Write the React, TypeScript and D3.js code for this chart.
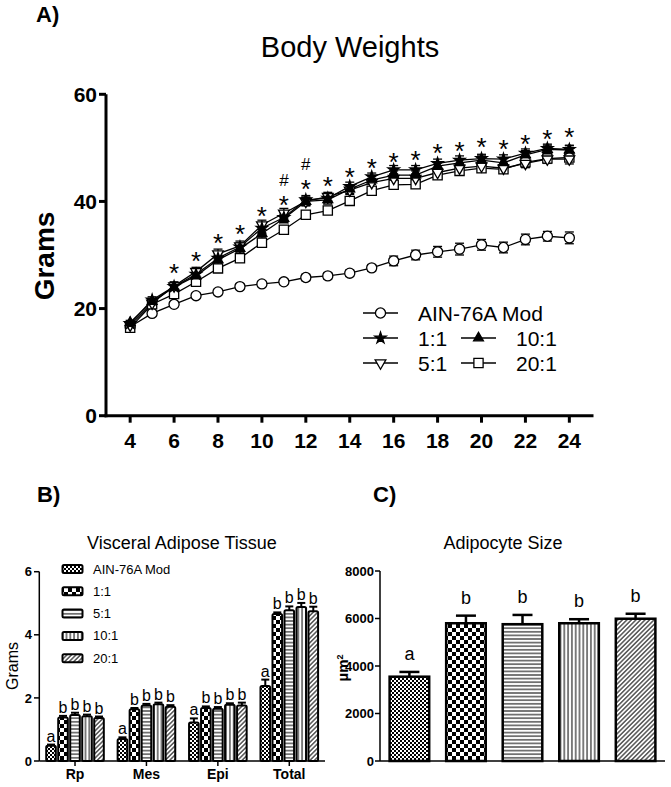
import React from "react";
import * as d3 from "d3";

const FONT = "'Liberation Sans', Arial, sans-serif";

// ---- panel A : body weights ----
const weeks = [4, 5, 6, 7, 8, 9, 10, 11, 12, 13, 14, 15, 16, 17, 18, 19, 20, 21, 22, 23, 24];
const weekTicks = [4, 6, 8, 10, 12, 14, 16, 18, 20, 22, 24];
const gramTicks = [0, 20, 40, 60];

const ainMod = [16.6, 19.1, 20.8, 22.4, 23.1, 24.1, 24.6, 25.0, 25.8, 26.1, 26.6, 27.6, 28.9, 30.0, 30.6, 31.1, 31.9, 31.4, 32.9, 33.5, 33.2];
const ainModErr = [0.4, 0.5, 0.5, 0.5, 0.5, 0.5, 0.5, 0.5, 0.6, 0.6, 0.6, 0.6, 0.9, 0.9, 1.0, 1.1, 1.0, 1.0, 1.0, 0.9, 1.1];
const ratio1 = [17.2, 21.6, 24.1, 26.4, 29.4, 31.5, 35.0, 37.0, 40.3, 40.6, 42.8, 44.6, 45.9, 45.9, 47.1, 47.7, 48.0, 47.9, 49.0, 49.9, 49.7];
const ratio1Err = [0.4, 0.6, 0.7, 0.7, 0.8, 0.8, 0.9, 0.9, 0.8, 0.8, 0.8, 0.7, 0.8, 0.8, 0.8, 0.8, 0.8, 0.8, 0.8, 0.8, 0.8];
const ratio5 = [16.9, 21.0, 24.2, 26.9, 30.2, 31.7, 35.6, 37.8, 40.0, 40.9, 42.1, 43.5, 44.3, 44.3, 45.4, 46.2, 46.6, 46.2, 47.1, 47.9, 47.9];
const ratio5Err = [0.4, 0.6, 0.8, 0.8, 0.9, 0.9, 0.9, 0.9, 0.8, 0.8, 0.8, 0.8, 0.8, 0.8, 0.8, 0.8, 0.8, 0.8, 0.8, 0.8, 0.9];
const ratio10 = [17.4, 21.3, 24.0, 26.1, 29.1, 31.2, 34.0, 36.8, 40.0, 40.3, 42.3, 44.0, 44.9, 44.9, 46.6, 47.2, 47.7, 47.2, 48.7, 49.7, 49.6];
const ratio10Err = [0.4, 0.6, 0.7, 0.7, 0.8, 0.8, 0.8, 0.8, 0.8, 0.8, 0.8, 0.8, 0.8, 0.8, 0.8, 0.8, 0.8, 0.8, 0.8, 0.8, 0.8];
const ratio20 = [16.4, 20.8, 22.7, 25.0, 27.5, 29.4, 32.3, 34.7, 37.5, 38.3, 40.1, 42.0, 43.1, 43.2, 44.9, 45.7, 46.2, 46.0, 47.3, 48.0, 48.2];
const ratio20Err = [0.4, 0.6, 0.6, 0.7, 0.7, 0.7, 0.7, 0.7, 0.7, 0.7, 0.7, 0.7, 0.7, 0.7, 0.7, 0.7, 0.7, 0.7, 0.7, 0.7, 0.7];

// significance marks (week, height in grams)
const starWeeks = [6, 7, 8, 9, 10, 11, 12, 13, 14, 15, 16, 17, 18, 19, 20, 21, 22, 23, 24];
const starAt = [27.8, 30.0, 33.4, 35.0, 38.4, 40.4, 43.5, 44.0, 45.7, 47.4, 48.4, 48.8, 50.2, 50.5, 51.2, 51.0, 51.8, 52.8, 53.2];
const hashWeeks = [11, 12];
const hashAt = [44.0, 46.9];

// ---- panel B : visceral adipose tissue ----
const diets = ["AIN-76A Mod", "1:1", "5:1", "10:1", "20:1"];
const sites = ["Rp", "Mes", "Epi", "Total"];
const fatTicks = [0, 2, 4, 6];
const fatAin = [0.48, 0.70, 1.22, 2.38];
const fat1 = [1.38, 1.64, 1.68, 4.66];
const fat5 = [1.46, 1.76, 1.66, 4.78];
const fat10 = [1.42, 1.80, 1.78, 4.88];
const fat20 = [1.36, 1.72, 1.76, 4.75];
const fatAinErr = [0.04, 0.05, 0.13, 0.2];
const fat1Err = [0.05, 0.04, 0.05, 0.05];
const fat5Err = [0.07, 0.05, 0.05, 0.12];
const fat10Err = [0.05, 0.05, 0.05, 0.13];
const fat20Err = [0.05, 0.05, 0.09, 0.14];
const dietLetters = ["a", "b", "b", "b", "b"];

// ---- panel C : adipocyte size ----
const cellTicks = [0, 2000, 4000, 6000, 8000];
const cellSize = [3550, 5800, 5760, 5800, 5990];
const cellErr = [200, 320, 390, 170, 210];

const patterns = ["pFine", "pCheck", "pHor", "pVer", "pDiag"];

const fatByDiet = [fatAin, fat1, fat5, fat10, fat20];
const fatErrByDiet = [fatAinErr, fat1Err, fat5Err, fat10Err, fat20Err];

const Defs = () => (
  <defs>
    <pattern id="pFine" width={4} height={4} patternUnits="userSpaceOnUse">
      <rect width={4} height={4} fill="#fff" />
      <rect width={2} height={2} fill="#000" />
      <rect x={2} y={2} width={2} height={2} fill="#000" />
    </pattern>
    <pattern id="pCheck" width={8} height={8} patternUnits="userSpaceOnUse">
      <rect width={8} height={8} fill="#fff" />
      <rect width={4} height={4} fill="#000" />
      <rect x={4} y={4} width={4} height={4} fill="#000" />
    </pattern>
    <pattern id="pHor" width={4} height={3.6} patternUnits="userSpaceOnUse">
      <rect width={4} height={3.6} fill="#fff" />
      <rect y={1.3} width={4} height={1} fill="#000" />
    </pattern>
    <pattern id="pVer" width={3.8} height={4} patternUnits="userSpaceOnUse">
      <rect width={3.8} height={4} fill="#fff" />
      <rect x={1.4} width={1} height={4} fill="#000" />
    </pattern>
    <pattern id="pDiag" width={3.2} height={4} patternUnits="userSpaceOnUse" patternTransform="rotate(45)">
      <rect width={3.2} height={4} fill="#fff" />
      <rect x={1.1} width={1} height={4} fill="#000" />
    </pattern>
  </defs>
);

const PanelA = () => {
  const x = d3.scaleLinear().domain([2.9, 25.1]).range([106, 593.5]);
  const y = d3.scaleLinear().domain([0, 60]).range([415.7, 94.3]);
  const line = d3.line<number>().x((_, i) => x(weeks[i])).y((d) => y(d));

  const series = [
    { name: "AIN-76A Mod", v: ainMod, e: ainModErr, type: d3.symbolCircle, size: 80, fill: "#fff", rot: 0 },
    { name: "20:1", v: ratio20, e: ratio20Err, type: d3.symbolSquare, size: 85, fill: "#fff", rot: 0 },
    { name: "5:1", v: ratio5, e: ratio5Err, type: d3.symbolTriangle, size: 50, fill: "#fff", rot: 180 },
    { name: "10:1", v: ratio10, e: ratio10Err, type: d3.symbolTriangle, size: 42, fill: "#000", rot: 0 },
    { name: "1:1", v: ratio1, e: ratio1Err, type: d3.symbolStar, size: 40, fill: "#000", rot: 0 },
  ];
  const sym = (s: any) => d3.symbol(s.type, s.size)() as string;
  const get = (n: string) => series.find((s) => s.name === n)!;

  const legend = [
    { n: "AIN-76A Mod", lx: 363, ly: 313 },
    { n: "1:1", lx: 363, ly: 338 },
    { n: "5:1", lx: 363, ly: 363 },
    { n: "10:1", lx: 461, ly: 338 },
    { n: "20:1", lx: 461, ly: 363 },
  ];

  return (
    <g fontFamily={FONT}>
      <text x={36} y={22} fontSize={22} fontWeight="bold">A)</text>
      <text x={350} y={57} fontSize={29} textAnchor="middle">Body Weights</text>
      <text transform="translate(54,256) rotate(-90)" fontSize={28} fontWeight="bold" textAnchor="middle">Grams</text>

      {/* axes */}
      <line x1={106} x2={106} y1={y(60)} y2={y(0) + 1.5} stroke="#000" strokeWidth={3} />
      <line x1={104.5} x2={593.5} y1={y(0)} y2={y(0)} stroke="#000" strokeWidth={3} />
      {gramTicks.map((t) => (
        <g key={t}>
          <line x1={99} x2={106} y1={y(t)} y2={y(t)} stroke="#000" strokeWidth={3} />
          <text x={97} y={y(t)} dy="0.36em" fontSize={21} fontWeight="bold" textAnchor="end">{t}</text>
        </g>
      ))}
      {weekTicks.map((t) => (
        <g key={t}>
          <line x1={x(t)} x2={x(t)} y1={y(0)} y2={y(0) + 7} stroke="#000" strokeWidth={3} />
          <text x={x(t)} y={448} fontSize={21} fontWeight="bold" textAnchor="middle">{t}</text>
        </g>
      ))}

      {series.map((s) => (
        <path key={s.name} d={line(s.v) as string} fill="none" stroke="#000" strokeWidth={1.3} />
      ))}
      {series.map((s) =>
        s.v.map((v, i) => (
          <g key={s.name + i} stroke="#000" strokeWidth={1.3}>
            <line x1={x(weeks[i])} x2={x(weeks[i])} y1={y(v - s.e[i])} y2={y(v + s.e[i])} />
            <line x1={x(weeks[i]) - 4.5} x2={x(weeks[i]) + 4.5} y1={y(v + s.e[i])} y2={y(v + s.e[i])} />
            <line x1={x(weeks[i]) - 4.5} x2={x(weeks[i]) + 4.5} y1={y(v - s.e[i])} y2={y(v - s.e[i])} />
          </g>
        ))
      )}
      {series.map((s) =>
        s.v.map((v, i) => (
          <path key={"m" + s.name + i} d={sym(s)} transform={`translate(${x(weeks[i])},${y(v)}) rotate(${s.rot})`}
            fill={s.fill} stroke="#000" strokeWidth={1.3} />
        ))
      )}

      {starWeeks.map((w, i) => (
        <text key={"s" + w} x={x(w)} y={y(starAt[i]) + 15} fontSize={26} textAnchor="middle">*</text>
      ))}
      {hashWeeks.map((w, i) => (
        <text key={"h" + w} x={x(w)} y={y(hashAt[i]) + 6} fontSize={17} textAnchor="middle">#</text>
      ))}

      {legend.map((l) => {
        const s = get(l.n);
        return (
          <g key={l.n}>
            <line x1={l.lx} x2={l.lx + 35} y1={l.ly} y2={l.ly} stroke="#000" strokeWidth={1.5} />
            <path d={sym(s)} transform={`translate(${l.lx + 17.5},${l.ly}) rotate(${s.rot})`} fill={s.fill} stroke="#000" strokeWidth={1.3} />
            <text x={l.lx + 55} y={l.ly + 7.5} fontSize={21}>{l.n}</text>
          </g>
        );
      })}
    </g>
  );
};

const PanelB = () => {
  const x0 = d3.scaleBand().domain(sites).range([39.3, 325]).paddingInner(0.16).paddingOuter(0.08);
  const x1 = d3.scaleBand().domain(diets).range([0, x0.bandwidth()]).paddingInner(0.2).paddingOuter(0.1);
  const y = d3.scaleLinear().domain([0, 6]).range([761, 571.7]);
  const legendY = [569, 591.3, 613.6, 635.9, 658.2];

  return (
    <g fontFamily={FONT}>
      <text x={37} y={502} fontSize={22} fontWeight="bold">B)</text>
      <text x={182} y={549} fontSize={18} textAnchor="middle">Visceral Adipose Tissue</text>
      <text transform="translate(18,666) rotate(-90)" fontSize={16} textAnchor="middle">Grams</text>

      {sites.map((site, si) =>
        diets.map((d, di) => {
          const v = fatByDiet[di][si];
          const e = fatErrByDiet[di][si];
          const bx = (x0(site) as number) + (x1(d) as number);
          const cx = bx + x1.bandwidth() / 2;
          return (
            <g key={site + d}>
              <line x1={cx} x2={cx} y1={y(v)} y2={y(v + e)} stroke="#000" strokeWidth={2} />
              <line x1={cx - 4} x2={cx + 4} y1={y(v + e)} y2={y(v + e)} stroke="#000" strokeWidth={2} />
              <rect x={bx} y={y(v)} width={x1.bandwidth()} height={y(0) - y(v)} rx={1.5}
                fill={`url(#${patterns[di]})`} stroke="#000" strokeWidth={2} />
              <text x={cx} y={y(v + e) - 3} fontSize={16} textAnchor="middle">{dietLetters[di]}</text>
            </g>
          );
        })
      )}

      <line x1={39.3} x2={39.3} y1={y(6)} y2={y(0)} stroke="#000" strokeWidth={1.5} />
      <line x1={39.3} x2={325} y1={y(0)} y2={y(0)} stroke="#000" strokeWidth={1.5} />
      {fatTicks.map((t) => (
        <g key={t}>
          <line x1={34} x2={39.3} y1={y(t)} y2={y(t)} stroke="#000" strokeWidth={1.5} />
          <text x={32} y={y(t)} dy="0.36em" fontSize={13} fontWeight="bold" textAnchor="end">{t}</text>
        </g>
      ))}
      {sites.map((s) => {
        const cx = (x0(s) as number) + x0.bandwidth() / 2;
        return (
          <g key={s}>
            <line x1={cx} x2={cx} y1={y(0)} y2={y(0) + 5} stroke="#000" strokeWidth={1.5} />
            <text x={cx} y={779} fontSize={14} fontWeight="bold" textAnchor="middle">{s}</text>
          </g>
        );
      })}

      {diets.map((d, i) => (
        <g key={d}>
          <rect x={62.5} y={legendY[i] - 4} width={20} height={8} rx={1.5} fill={`url(#${patterns[i]})`} stroke="#000" strokeWidth={2} />
          <text x={93} y={legendY[i] + 4.5} fontSize={13}>{d}</text>
        </g>
      ))}
    </g>
  );
};

const PanelC = () => {
  const x = d3.scaleBand().domain(diets).range([380, 665]).paddingInner(0.3).paddingOuter(0.17);
  const y = d3.scaleLinear().domain([0, 8000]).range([761, 571]);

  return (
    <g fontFamily={FONT}>
      <text x={373} y={502} fontSize={22} fontWeight="bold">C)</text>
      <text x={503} y={549} fontSize={18} textAnchor="middle">Adipocyte Size</text>
      <text transform="translate(348,668) rotate(-90)" fontSize={15} fontWeight="bold" textAnchor="middle">
        µm<tspan dy={-5} fontSize={9}>2</tspan>
      </text>

      {diets.map((d, i) => {
        const v = cellSize[i];
        const e = cellErr[i];
        const bx = x(d) as number;
        const cx = bx + x.bandwidth() / 2;
        return (
          <g key={d}>
            <line x1={cx} x2={cx} y1={y(v)} y2={y(v + e)} stroke="#000" strokeWidth={2.5} />
            <line x1={cx - 10} x2={cx + 10} y1={y(v + e)} y2={y(v + e)} stroke="#000" strokeWidth={2.5} />
            <rect x={bx} y={y(v)} width={x.bandwidth()} height={y(0) - y(v)}
              fill={`url(#${patterns[i]})`} stroke="#000" strokeWidth={2.5} />
            <text x={cx} y={y(v + e) - 12} fontSize={18} textAnchor="middle">{dietLetters[i]}</text>
          </g>
        );
      })}

      <line x1={380} x2={380} y1={y(8000)} y2={y(0)} stroke="#000" strokeWidth={1.5} />
      <line x1={380} x2={665} y1={y(0)} y2={y(0)} stroke="#000" strokeWidth={1.5} />
      {cellTicks.map((t) => (
        <g key={t}>
          <line x1={375} x2={380} y1={y(t)} y2={y(t)} stroke="#000" strokeWidth={1.5} />
          <text x={374} y={y(t)} dy="0.36em" fontSize={13} fontWeight="bold" textAnchor="end">{t}</text>
        </g>
      ))}
    </g>
  );
};

export default function App() {
  return (
    <svg width={671} height={787} style={{ position: "absolute", left: 0, top: 0, background: "#fff" }}>
      <rect width={671} height={787} fill="#fff" />
      <Defs />
      <PanelA />
      <PanelB />
      <PanelC />
    </svg>
  );
}
